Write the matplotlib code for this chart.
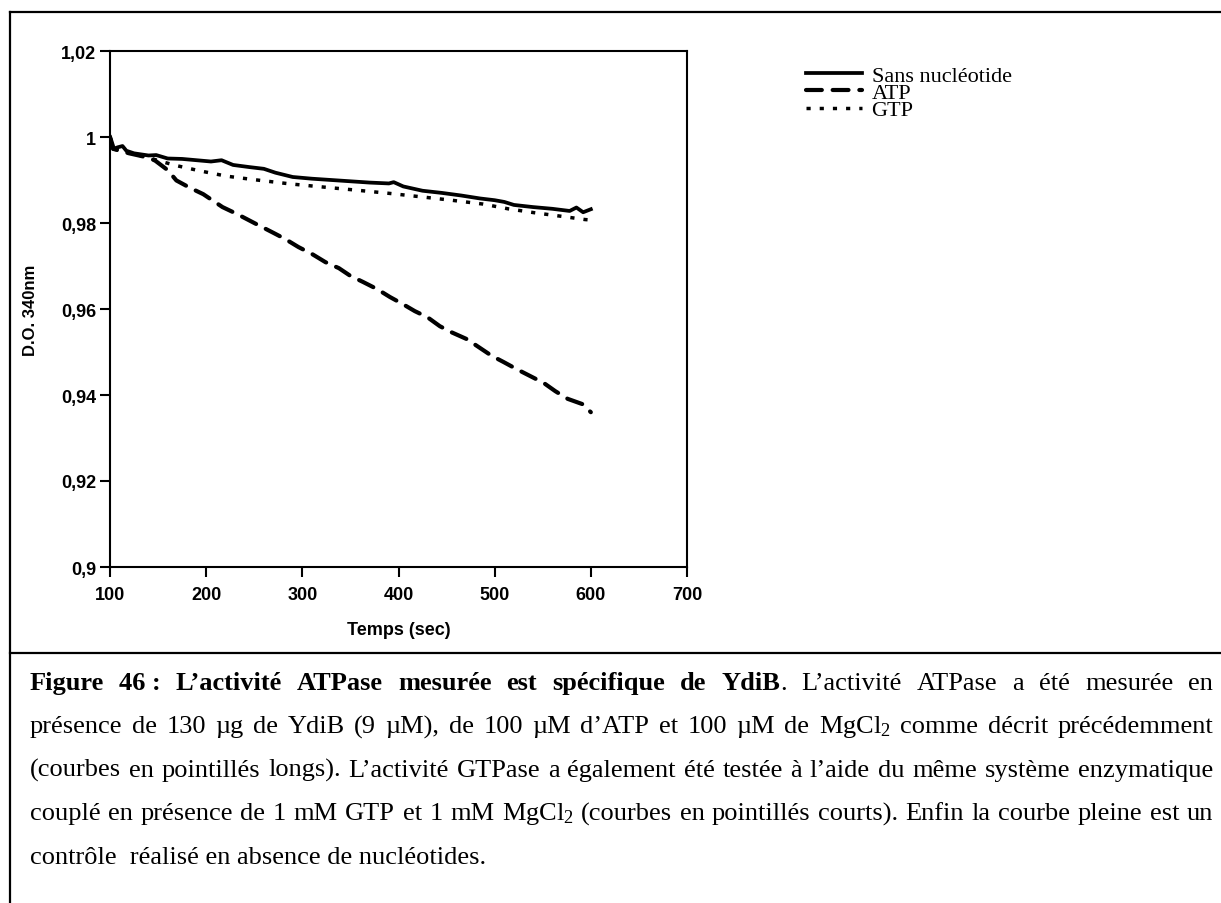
import matplotlib
matplotlib.use('Agg')
import matplotlib.pyplot as plt
from matplotlib.lines import Line2D

# --- data ---
t_sans = [100, 103, 108, 113, 117, 125, 140, 148, 160, 175, 195, 205, 216, 228, 245, 260,
          272, 290, 310, 330, 350, 370, 390, 395, 405, 425, 445, 465, 485, 500, 510, 520,
          540, 560, 578, 585, 592, 600]
od_sans = [1.0000, 0.9972, 0.9976, 0.9979, 0.9968, 0.9962, 0.9957, 0.9958, 0.9950, 0.9949,
           0.9945, 0.9943, 0.9946, 0.9935, 0.9930, 0.9926, 0.9917, 0.9907, 0.9903, 0.9900,
           0.9897, 0.9894, 0.9892, 0.9895, 0.9885, 0.9875, 0.9870, 0.9864, 0.9857, 0.9853,
           0.9849, 0.9842, 0.9837, 0.9833, 0.9828, 0.9836, 0.9825, 0.9832]

t_atp = [100, 104, 120, 140, 147, 160, 169, 183, 197, 217, 232, 250, 270, 282, 296, 310,
         324, 338, 350, 363, 378, 391, 404, 417, 430, 443, 455, 471, 483, 497, 509, 523,
         537, 551, 563, 576, 591, 600]
od_atp = [1.0000, 0.9972, 0.9962, 0.9952, 0.9945, 0.9923, 0.9899, 0.9882, 0.9867, 0.9837,
          0.9821, 0.9800, 0.9777, 0.9763, 0.9744, 0.9728, 0.9709, 0.9695, 0.9677, 0.9663,
          0.9646, 0.9628, 0.9612, 0.9595, 0.9581, 0.9560, 0.9546, 0.9530, 0.9512, 0.9491,
          0.9477, 0.9460, 0.9444, 0.9428, 0.9409, 0.9391, 0.9379, 0.9360]

t_gtp = [100, 104, 120, 140, 155, 170, 194, 221, 249, 287, 320, 358, 390, 423, 455, 488,
         514, 541, 568, 594, 600]
od_gtp = [1.0000, 0.9972, 0.9963, 0.9952, 0.9942, 0.9933, 0.9921, 0.9909, 0.9901, 0.9891,
          0.9884, 0.9876, 0.9869, 0.9861, 0.9853, 0.9844, 0.9833, 0.9824, 0.9816, 0.9808,
          0.9807]

xticks = [100, 200, 300, 400, 500, 600, 700]
yticks = [0.90, 0.92, 0.94, 0.96, 0.98, 1.00, 1.02]
ytick_labels = ['0,9', '0,92', '0,94', '0,96', '0,98', '1', '1,02']

labels = ['Sans nucléotide', 'ATP', 'GTP']

caption = [
    [[('Figure', True)], [('46\u00a0:', True)], [('L’activité', True)], [('ATPase', True)],
     [('mesurée', True)], [('est', True)], [('spécifique', True)], [('de', True)],
     [('YdiB', True), ('.', False)], [('L’activité', False)], [('ATPase', False)],
     [('a', False)], [('été', False)], [('mesurée', False)], [('en', False)]],
    'présence de 130 µg de YdiB (9 µM), de 100 µM d’ATP et 100 µM de MgCl$_2$ comme décrit précédemment',
    '(courbes en pointillés longs). L’activité GTPase a également été testée à l’aide du même système enzymatique',
    'couplé en présence de 1 mM GTP et 1 mM MgCl$_2$ (courbes en pointillés courts). Enfin la courbe pleine est un',
]
last_line = 'contrôle  réalisé en absence de nucléotides.'

plt.rcParams['mathtext.default'] = 'regular'

W, H = 1221, 904
fig = plt.figure(figsize=(W / 100, H / 100), dpi=100)

ax = fig.add_axes([110 / W, 1 - 568 / H, 577 / W, 516 / H])
ax.plot(t_sans, od_sans, color='black', lw=2.7, solid_joinstyle='round', label=labels[0])
ax.plot(t_atp, od_atp, color='black', lw=3, dashes=(3.8, 2.6), dash_capstyle='round',
        label=labels[1])
ax.plot(t_gtp, od_gtp, color='black', lw=2.5, dashes=(1.2, 2.6), label=labels[2])

ax.set_xlim(100, 700)
ax.set_ylim(0.9, 1.02)
ax.set_xticks(xticks)
ax.set_yticks(yticks)
ax.set_yticklabels(ytick_labels)
for sp in ax.spines.values():
    sp.set_linewidth(1.5)
ax.tick_params(direction='out', length=7, width=1.5, pad=3)
ax.tick_params(axis='x', pad=7)
for lab in ax.get_xticklabels() + ax.get_yticklabels():
    lab.set_family('Liberation Sans')
    lab.set_fontweight('bold')
    lab.set_fontsize(13)

ax.set_xlabel('Temps (sec)', family='Liberation Sans', fontweight='bold', fontsize=13)
ax.set_ylabel('D.O. 340nm', family='Liberation Sans', fontweight='bold', fontsize=12)
ax.xaxis.set_label_coords(0.5, (568 - 622) / 516)
ax.yaxis.set_label_coords((38 - 110) / 577, 0.5)

leg = ax.legend(loc='upper left', bbox_to_anchor=(806 / W, 1 - 66 / H),
                bbox_transform=fig.transFigure, frameon=False, borderpad=0,
                borderaxespad=0, handlelength=2.5, handletextpad=0.45,
                labelspacing=-0.14, prop={'family': 'Liberation Serif', 'size': 16})

# frame lines of the figure box
def fline(x0, y0, x1, y1):
    fig.add_artist(Line2D([x0 / W, x1 / W], [1 - y0 / H, 1 - y1 / H],
                          transform=fig.transFigure, color='black', lw=1.6))

fline(10, 13, W, 13)
fline(10, 13, 10, H)
fline(10, 654, W, 654)

# caption, justified
renderer = fig.canvas.get_renderer()
fs = 19


def seg_width(s, bold):
    t = fig.text(0, 0, s, fontsize=fs, family='Liberation Serif',
                 fontweight='bold' if bold else 'normal')
    w = t.get_window_extent(renderer).width
    t.remove()
    return w


x_left, x_right = 30, 1213
baselines = [690, 733.5, 777, 820.5, 864]

for i, line in enumerate(caption):
    if isinstance(line, str):
        words = [[(w, False)] for w in line.split(' ')]
    else:
        words = line
    widths = [[seg_width(s, b) for s, b in word] for word in words]
    total = sum(sum(ws) for ws in widths)
    gap = (x_right - x_left - total) / (len(words) - 1)
    x = x_left
    for word, ws in zip(words, widths):
        for (s, b), w in zip(word, ws):
            fig.text(x / W, 1 - baselines[i] / H, s, fontsize=fs, family='Liberation Serif',
                     fontweight='bold' if b else 'normal', va='baseline', ha='left')
            x += w
        x += gap

fig.text(x_left / W, 1 - baselines[4] / H, last_line, fontsize=fs, family='Liberation Serif',
         va='baseline', ha='left')

fig.savefig('out.png', dpi=100)
